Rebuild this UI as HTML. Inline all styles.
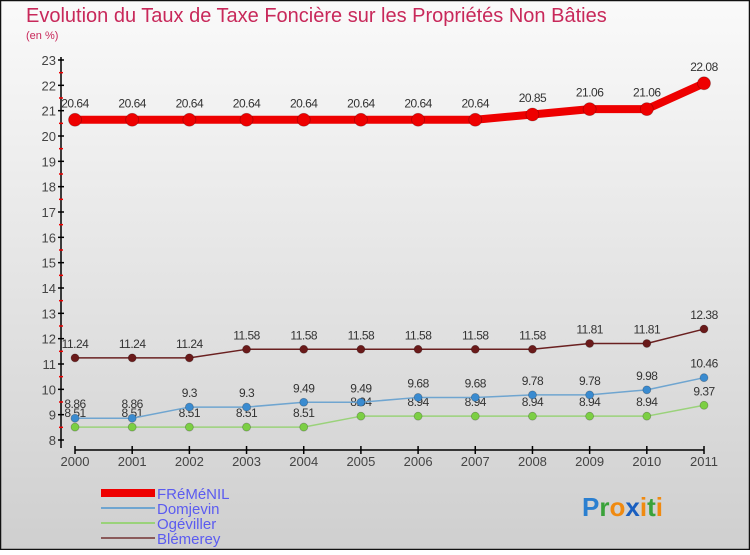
<!DOCTYPE html>
<html><head><meta charset="utf-8">
<style>
html,body{margin:0;padding:0;}
body{width:750px;height:550px;overflow:hidden;font-family:"Liberation Sans",sans-serif;}
svg text{font-family:"Liberation Sans",sans-serif;}
</style></head>
<body>
<svg id="chart" width="750" height="550" viewBox="0 0 750 550" xmlns="http://www.w3.org/2000/svg">
<defs>
<linearGradient id="bg" x1="0" y1="0" x2="0" y2="1">
<stop offset="0" stop-color="#fafafa"/>
<stop offset="1" stop-color="#cfcfcf"/>
</linearGradient>
</defs>
<rect x="0.5" y="0.5" width="749" height="549" fill="url(#bg)" stroke="#111" stroke-width="1.5"/>
<text x="26" y="22" font-size="20" fill="#c8285a">Evolution du Taux de Taxe Foncière sur les Propriétés Non Bâties</text>
<text x="26" y="39" font-size="11" fill="#c8285a">(en %)</text>
<g id="axes"></g>
<g id="series"></g>
<g id="legend">
<rect x="101" y="489" width="54" height="8" fill="#e00"/>
<text x="157" y="499" font-size="15" fill="#5b5bf0">FRéMéNIL</text>
<line x1="101" y1="508" x2="155" y2="508" stroke="#6fa5d0" stroke-width="2"/>
<text x="157" y="514" font-size="15" fill="#5b5bf0">Domjevin</text>
<line x1="101" y1="523" x2="155" y2="523" stroke="#9ad27a" stroke-width="2"/>
<text x="157" y="529" font-size="15" fill="#5b5bf0">Ogéviller</text>
<line x1="101" y1="538" x2="155" y2="538" stroke="#8a5a5a" stroke-width="2"/>
<text x="157" y="544" font-size="15" fill="#5b5bf0">Blémerey</text>
</g>
<g font-size="26" font-weight="bold">
<text x="582" y="516"><tspan fill="#2a7fd0">P</tspan><tspan fill="#3aa23a">r</tspan><tspan fill="#f08a10">o</tspan><tspan fill="#1a5fc0">x</tspan><tspan fill="#f08a10">i</tspan><tspan fill="#3aa23a">t</tspan><tspan fill="#f08a10">i</tspan></text>
</g>
</svg>
<script>
const years = ["2000","2001","2002","2003","2004","2005","2006","2007","2008","2009","2010","2011"];
const fremenil = [20.64,20.64,20.64,20.64,20.64,20.64,20.64,20.64,20.85,21.06,21.06,22.08];
const domjevin = [8.86,8.86,9.3,9.3,9.49,9.49,9.68,9.68,9.78,9.78,9.98,10.46];
const ogeviller = [8.51,8.51,8.51,8.51,8.51,8.94,8.94,8.94,8.94,8.94,8.94,9.37];
const blemerey = [11.24,11.24,11.24,11.58,11.58,11.58,11.58,11.58,11.58,11.81,11.81,12.38];
const yTicks = [8,9,10,11,12,13,14,15,16,17,18,19,20,21,22,23];

const NS = "http://www.w3.org/2000/svg";
const yMin = 8, yMax = 23, yTop = 60, yBot = 440;
const xFirst = 75, xLast = 704;
function xs(i){ return xFirst + i*(xLast-xFirst)/(years.length-1); }
function ys(v){ return yBot - (v-yMin)*(yBot-yTop)/(yMax-yMin); }
function mk(tag, attrs, parent){ const e=document.createElementNS(NS,tag); for(const k in attrs) e.setAttribute(k,attrs[k]); parent.appendChild(e); return e; }

const axes = document.getElementById('axes');
const yAxis = mk('line',{x1:61,y1:yTop-3,x2:61,y2:yBot+8,stroke:'#000','stroke-width':1.5},axes);


yTicks.forEach(t=>{
  const y=ys(t);
  const tk=mk('line',{x1:58,y1:y,x2:64,y2:y,stroke:'#000','stroke-width':1.5},axes);
  
  
  const lb=mk('text',{x:56,y:y+5,'text-anchor':'end','font-size':13,fill:'#444'},axes);
  lb.textContent=t;
  
  
  if(t<yMax){
    const m=mk('line',{x1:59,y1:ys(t+0.5),x2:63,y2:ys(t+0.5),stroke:'#e00','stroke-width':1.5},axes);
    
    
  }
});
const xAxis = mk('line',{x1:xFirst,y1:450,x2:xLast,y2:450,stroke:'#000','stroke-width':1.5},axes);


years.forEach((yr,i)=>{
  const x=xs(i);
  const tk=mk('line',{x1:x,y1:446,x2:x,y2:454,stroke:'#000','stroke-width':1.5},axes);
  
  
  const lb=mk('text',{x:x,y:466,'text-anchor':'middle','font-size':13,fill:'#444'},axes);
  lb.textContent=yr;
  
  
});

const seriesG = document.getElementById('series');
function drawSeries(vals, name, lineColor, dotColor, width, r, fs){
  const g=mk('g',{},seriesG);
  
  
  const pts=vals.map((v,i)=>xs(i)+','+ys(v)).join(' ');
  const pl=mk('polyline',{points:pts,fill:'none',stroke:lineColor,'stroke-width':width,'stroke-linejoin':'round'},g);
  
  
  vals.forEach((v,i)=>{
    const c=mk('circle',{cx:xs(i),cy:ys(v),r:r,fill:dotColor,stroke:'rgba(0,0,0,0.25)','stroke-width':0.8},g);
    
    
    const t=mk('text',{x:xs(i),y:ys(v)-(r+6),'text-anchor':'middle','font-size':fs,fill:'#333','letter-spacing':'-0.5'},g);
    t.textContent=v;
    
    
  });
}
drawSeries(ogeviller,'ogeviller','#9ad27a','#7ccf44',1.5,4,12);
drawSeries(domjevin,'domjevin','#6fa5d0','#3a8bd0',1.5,4,12);
drawSeries(blemerey,'blemerey','#6a2020','#6a1a1a',1.5,4,12);
drawSeries(fremenil,'fremenil','#e00','#e00',8,6.5,12);
</script>
</body></html>
